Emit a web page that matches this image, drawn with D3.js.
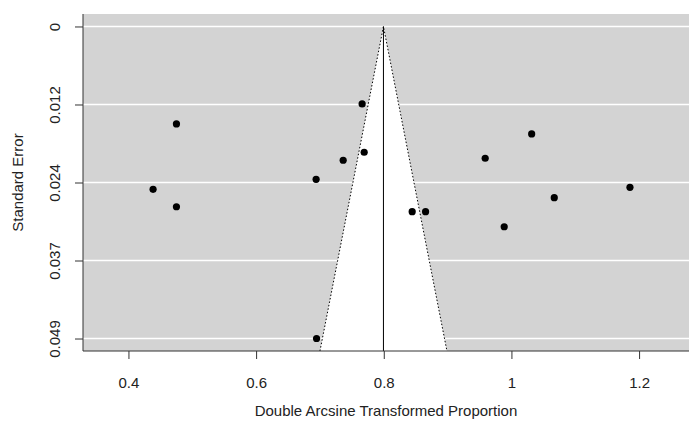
<!DOCTYPE html>
<html>
<head>
<meta charset="utf-8">
<script src="https://cdn.jsdelivr.net/npm/d3@7"></script>
<style>
  body { margin: 0; background: #fff; }
  svg { display: block; font-family: 'Liberation Sans', Arial, sans-serif; }
</style>
</head>
<body>
<div id="container"></div>
<script>
// study effects (double arcsine transformed proportion) and their standard errors
const effects = [0.4752, 0.4386, 0.4752, 0.694, 0.7364, 0.7661, 0.7693, 0.6947,
    0.8445, 0.8655, 0.9589, 0.9887, 1.0317, 1.0671, 1.1857];
const stdErrors = [0.01524, 0.02546, 0.02819, 0.0239, 0.02092, 0.01211, 0.01967, 0.0488,
    0.02897, 0.02897, 0.02061, 0.03132, 0.0168, 0.02678, 0.02515];
const estimate = 0.7995;

const xTicks = [0.4, 0.6, 0.8, 1, 1.2];
const xTickLabels = ['0.4', '0.6', '0.8', '1', '1.2'];
const yTicks = [0, 0.0122, 0.0244, 0.0366, 0.0488];
const yTickLabels = ['0', '0.012', '0.024', '0.037', '0.049'];

const W = 691, H = 427;
const margin = { top: 14, right: 2, bottom: 76, left: 83 };
const width = W - margin.left - margin.right;
const height = H - margin.top - margin.bottom;
const fontSize = 15;

const seMax = d3.max(stdErrors);
const pad = seMax * 0.04;
const seBottom = seMax + pad;

const x = d3.scaleLinear().domain([0.3288, 1.2782]).range([0, width]);
const y = d3.scaleLinear().domain([-pad, seBottom]).range([0, height]);

const svg = d3.select('#container')
    .append('svg')
    .attr('width', W)
    .attr('height', H)
    .append('g')
    .attr('transform', `translate(${margin.left}, ${margin.top})`);

// background
svg.append('rect')
    .attr('width', width)
    .attr('height', height)
    .attr('fill', '#d3d3d3');

// funnel region
const z = 1.96;
const funnel = [
    [estimate - z * seBottom, seBottom],
    [estimate, 0],
    [estimate + z * seBottom, seBottom]
];
svg.append('path')
    .attr('d', d3.line().x(d => x(d[0])).y(d => y(d[1]))(funnel) + 'Z')
    .attr('fill', '#fff');

// horizontal grid lines
svg.append('g')
    .selectAll('line')
    .data(yTicks).enter()
    .append('line')
    .attr('x1', 0)
    .attr('x2', width)
    .attr('y1', d => y(d))
    .attr('y2', d => y(d))
    .attr('stroke', '#fff')
    .attr('stroke-width', 1.5);

// funnel edges
svg.append('path')
    .attr('d', d3.line().x(d => x(d[0])).y(d => y(d[1]))(funnel))
    .attr('fill', 'none')
    .attr('stroke', '#000')
    .attr('stroke-width', 1)
    .attr('stroke-dasharray', '1.5,2');

// estimate line
svg.append('line')
    .attr('x1', x(estimate))
    .attr('x2', x(estimate))
    .attr('y1', y(0))
    .attr('y2', height)
    .attr('stroke', '#000')
    .attr('stroke-width', 1);

// study points
svg.append('g')
    .selectAll('circle')
    .data(effects.map((e, i) => ({ e, se: stdErrors[i] }))).enter()
    .append('circle')
    .attr('cx', d => x(d.e))
    .attr('cy', d => y(d.se))
    .attr('r', 3.6)
    .attr('fill', '#000');

// axes (L-shaped box)
const axisColor = '#333';
svg.append('line')
    .attr('x1', 0).attr('x2', 0)
    .attr('y1', 0).attr('y2', height)
    .attr('stroke', axisColor);
svg.append('line')
    .attr('x1', 0).attr('x2', width)
    .attr('y1', height).attr('y2', height)
    .attr('stroke', axisColor);

const xAxis = d3.axisBottom(x)
    .tickValues(xTicks)
    .tickSize(8)
    .tickFormat((d, i) => xTickLabels[i]);
const gx = svg.append('g')
    .attr('transform', `translate(0, ${height})`)
    .call(xAxis);
gx.select('.domain').remove();
gx.selectAll('line').attr('stroke', axisColor);
gx.selectAll('text')
    .attr('y', 32)
    .attr('dy', '0.35em')
    .attr('font-size', fontSize)
    .attr('font-family', 'Liberation Sans, Arial, sans-serif')
    .attr('fill', '#222');

const yAxis = d3.axisLeft(y)
    .tickValues(yTicks)
    .tickSize(8)
    .tickFormat((d, i) => yTickLabels[i]);
const gy = svg.append('g').call(yAxis);
gy.select('.domain').remove();
gy.selectAll('line').attr('stroke', axisColor);
gy.selectAll('text')
    .attr('x', null)
    .attr('text-anchor', 'middle')
    .attr('transform', 'translate(-28, 0) rotate(-90)')
    .attr('dy', '0.35em')
    .attr('font-size', fontSize)
    .attr('font-family', 'Liberation Sans, Arial, sans-serif')
    .attr('fill', '#222');

// axis titles
svg.append('text')
    .attr('x', width / 2)
    .attr('y', height + 60)
    .attr('dy', '0.35em')
    .attr('text-anchor', 'middle')
    .attr('font-size', fontSize)
    .attr('fill', '#222')
    .text('Double Arcsine Transformed Proportion');

svg.append('text')
    .attr('transform', `translate(${-65}, ${height / 2}) rotate(-90)`)
    .attr('dy', '0.35em')
    .attr('text-anchor', 'middle')
    .attr('font-size', fontSize)
    .attr('fill', '#222')
    .text('Standard Error');
</script>
</body>
</html>
